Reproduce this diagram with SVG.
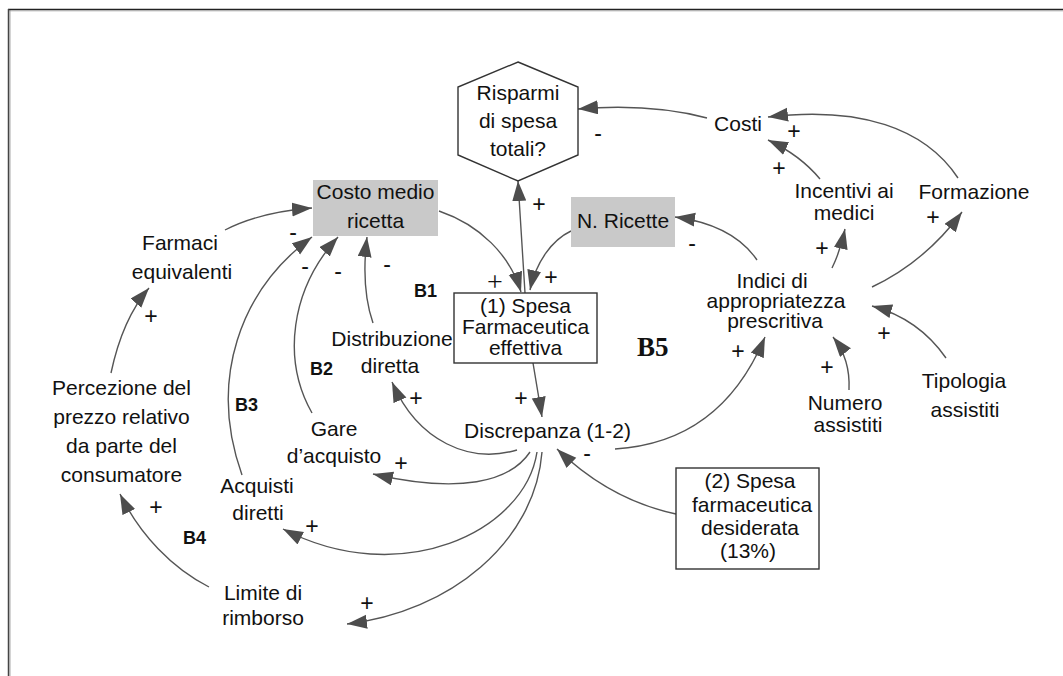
<svg xmlns="http://www.w3.org/2000/svg" width="1063" height="676" viewBox="0 0 1063 676">
  <style>
    .lbl { font-family: "Liberation Sans", Arial, sans-serif; font-size: 21px; fill: #111; text-anchor: middle; }
    .loop { font-family: "Liberation Sans", Arial, sans-serif; font-size: 18px; font-weight: bold; fill: #111; }
    .pol { font-family: "Liberation Sans", Arial, sans-serif; font-size: 23px; fill: #111; text-anchor: middle; }
    .link { fill: none; stroke: #555; stroke-width: 1.4; marker-end: url(#ah); }
    .box { fill: #fff; stroke: #333; stroke-width: 1.4; }
    .aux { fill: #c9c9c9; stroke: none; }
  </style>
  <defs>
    <marker id="ah" markerUnits="userSpaceOnUse" markerWidth="22" markerHeight="16" refX="20" refY="7" orient="auto">
      <path d="M0,0 L20,7 L0,14 z" fill="#4d4d4d"/>
    </marker>
  </defs>

  <rect width="1063" height="676" fill="#fff"/>
  <!-- frame -->
  <g id="frame">
    <line x1="8" y1="11" x2="1063" y2="11" stroke="#ccc" stroke-width="1"/>
    <line x1="10" y1="10" x2="10" y2="676" stroke="#aaa" stroke-width="1"/>
    <line x1="8" y1="9.5" x2="1063" y2="9.5" stroke="#222" stroke-width="1.5"/>
    <line x1="8.5" y1="9" x2="8.5" y2="676" stroke="#444" stroke-width="1.5"/>
  </g>

  <!-- connectors -->
  <g id="connectors">
    <path class="link" d="M707,118 Q650,103 578,109"/>
    <path class="link" d="M958,178 C925,128 860,106 768,117"/>
    <path class="link" d="M820,179 Q800,155 768,140"/>
    <path class="link" d="M832,268 Q840,252 845,229"/>
    <path class="link" d="M872,287 Q925,262 962,212"/>
    <path class="link" d="M757,260 C740,235 712,222 675,217"/>
    <path class="link" d="M849,390 C850,370 845,352 833,337"/>
    <path class="link" d="M946,358 C930,335 905,315 872,306"/>
    <path class="link" d="M615,449 C700,444 742,392 765,337"/>
    <path class="link" d="M676,514 Q610,500 557,449"/>
    <path class="link" d="M533,363 L542,417"/>
    <path class="link" d="M525,293 L518,181"/>
    <path class="link" d="M439,211 C480,225 510,255 521,292"/>
    <path class="link" d="M571,231 C552,240 536,262 530,290"/>
    <path class="link" d="M373,323 C365,300 363,270 367,237"/>
    <path class="link" d="M312,413 C282,360 290,290 338,237"/>
    <path class="link" d="M242,475 C208,380 240,290 312,237"/>
    <path class="link" d="M225,230 Q260,212 312,208"/>
    <path class="link" d="M111,373 C118,340 130,310 149,288"/>
    <path class="link" d="M209,587 C172,568 140,535 120,494"/>
    <path class="link" d="M517,450 C470,464 418,442 392,382"/>
    <path class="link" d="M530,452 C510,482 460,494 373,474"/>
    <path class="link" d="M537,452 C525,532 400,590 283,529"/>
    <path class="link" d="M542,452 C535,542 450,612 347,624"/>
  </g>

  <!-- polarities -->
  <g id="polarities">
    <text class="pol" x="598" y="141">-</text>
    <text class="pol" x="794" y="139">+</text>
    <text class="pol" x="779" y="176">+</text>
    <text class="pol" x="822" y="256">+</text>
    <text class="pol" x="933" y="225">+</text>
    <text class="pol" x="692" y="251">-</text>
    <text class="pol" x="827" y="375">+</text>
    <text class="pol" x="884" y="341">+</text>
    <text class="pol" x="738" y="359">+</text>
    <text class="pol" x="587" y="461">-</text>
    <text class="pol" x="521" y="406">+</text>
    <text class="pol" x="539" y="212">+</text>
    <text x="495" y="291" style="font-family:'Liberation Serif',serif;font-size:28px;fill:#111;text-anchor:middle">+</text>
    <text class="pol" x="551" y="285">+</text>
    <text class="pol" x="387" y="272">-</text>
    <text class="pol" x="338" y="279">-</text>
    <text class="pol" x="305" y="274">-</text>
    <text class="pol" x="293" y="240">-</text>
    <text class="pol" x="151" y="324">+</text>
    <text class="pol" x="156" y="515">+</text>
    <text class="pol" x="416" y="406">+</text>
    <text class="pol" x="401" y="471">+</text>
    <text class="pol" x="312" y="534">+</text>
    <text class="pol" x="367" y="611">+</text>
  </g>

  <!-- loop identifiers -->
  <g id="loops">
    <text class="loop" x="414" y="297">B1</text>
    <text class="loop" x="310" y="375">B2</text>
    <text class="loop" x="235" y="411">B3</text>
    <text class="loop" x="183" y="544">B4</text>
    <text x="637" y="356" style="font-family:'Liberation Serif',serif;font-size:27px;font-weight:bold;fill:#111">B5</text>
  </g>

  <!-- nodes -->
  <g id="risparmi">
    <polygon class="box" points="518,62 578,87 578,155 518,181 458,155 458,87"/>
    <text class="lbl" x="518" y="100">Risparmi</text>
    <text class="lbl" x="518" y="128">di spesa</text>
    <text class="lbl" x="518" y="156">totali?</text>
  </g>
  <g id="costi">
    <text class="lbl" x="738" y="131">Costi</text>
  </g>
  <g id="incentivi">
    <text class="lbl" x="844" y="198">Incentivi ai</text>
    <text class="lbl" x="844" y="220">medici</text>
  </g>
  <g id="formazione">
    <text class="lbl" x="974" y="199">Formazione</text>
  </g>
  <g id="n-ricette">
    <rect class="aux" x="571" y="197" width="104" height="50"/>
    <text class="lbl" x="623" y="228">N. Ricette</text>
  </g>
  <g id="costo-medio">
    <rect class="aux" x="313" y="180" width="125" height="56"/>
    <text class="lbl" x="375.5" y="199">Costo medio</text>
    <text class="lbl" x="375.5" y="228">ricetta</text>
  </g>
  <g id="spesa-effettiva">
    <rect class="box" x="454" y="293" width="143" height="70"/>
    <text class="lbl" x="525.5" y="313">(1) Spesa</text>
    <text class="lbl" x="525.5" y="334">Farmaceutica</text>
    <text class="lbl" x="525.5" y="355">effettiva</text>
  </g>
  <g id="indici">
    <text class="lbl" x="772" y="288">Indici di</text>
    <text class="lbl" x="776" y="308">appropriatezza</text>
    <text class="lbl" x="775" y="328">prescritiva</text>
  </g>
  <g id="numero">
    <text class="lbl" x="845" y="410">Numero</text>
    <text class="lbl" x="848" y="432">assistiti</text>
  </g>
  <g id="tipologia">
    <text class="lbl" x="964" y="388">Tipologia</text>
    <text class="lbl" x="965" y="417">assistiti</text>
  </g>
  <g id="discrepanza">
    <text class="lbl" x="547.5" y="438">Discrepanza (1-2)</text>
  </g>
  <g id="spesa-desiderata">
    <rect class="box" x="676" y="468" width="143" height="101"/>
    <text class="lbl" x="750" y="488">(2) Spesa</text>
    <text class="lbl" x="752" y="512">farmaceutica</text>
    <text class="lbl" x="750" y="535">desiderata</text>
    <text class="lbl" x="748" y="558">(13%)</text>
  </g>
  <g id="distribuzione">
    <text class="lbl" x="392" y="346">Distribuzione</text>
    <text class="lbl" x="390" y="373">diretta</text>
  </g>
  <g id="gare">
    <text class="lbl" x="334" y="436">Gare</text>
    <text class="lbl" x="334" y="463">d’acquisto</text>
  </g>
  <g id="acquisti">
    <text class="lbl" x="257" y="493">Acquisti</text>
    <text class="lbl" x="258" y="520">diretti</text>
  </g>
  <g id="limite">
    <text class="lbl" x="263" y="600">Limite di</text>
    <text class="lbl" x="263" y="625">rimborso</text>
  </g>
  <g id="farmaci">
    <text class="lbl" x="180" y="250">Farmaci</text>
    <text class="lbl" x="182" y="279">equivalenti</text>
  </g>
  <g id="percezione">
    <text class="lbl" x="121.5" y="395">Percezione del</text>
    <text class="lbl" x="121.5" y="424">prezzo relativo</text>
    <text class="lbl" x="121.5" y="453">da parte del</text>
    <text class="lbl" x="121.5" y="482">consumatore</text>
  </g>
</svg>
